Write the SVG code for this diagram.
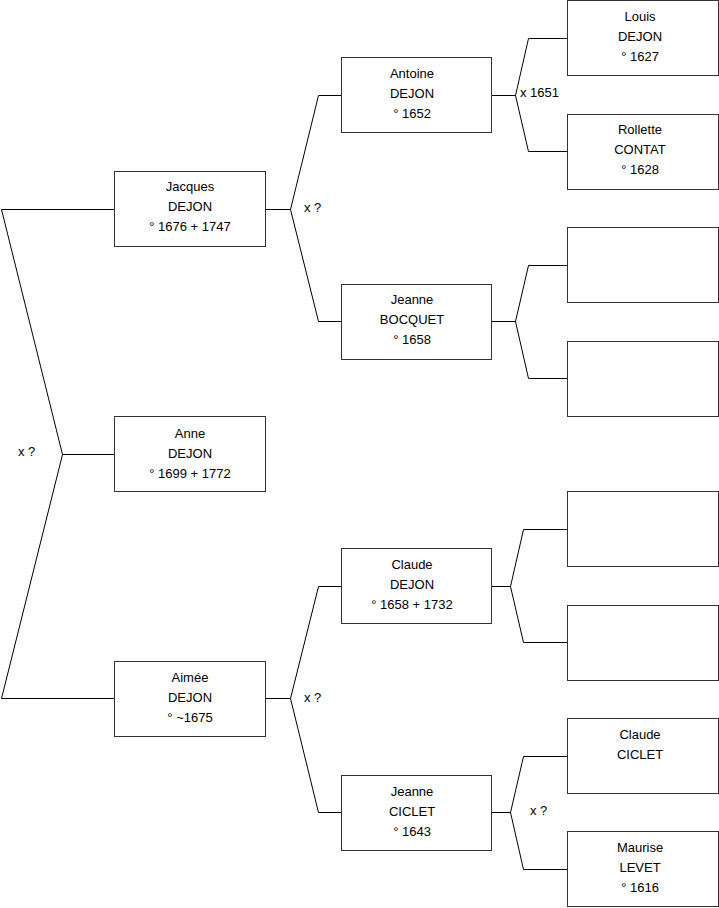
<svg xmlns="http://www.w3.org/2000/svg" width="719" height="908" viewBox="0 0 719 908">
<style>
.box{fill:#fff;stroke:#333;stroke-width:1}
.ln{fill:none;stroke:#000;stroke-width:1}
text{font-family:"Liberation Sans",Arial,sans-serif;font-size:13px;fill:#000}
.c{text-anchor:middle}
</style>
<rect width="719" height="908" fill="#fff"/>
<g id="connectors">
<path class="ln" d="M114.5,209.5H1.5L62.5,454.5L1.5,698.5H114.5M62.5,454.5H114.5"/>
<path class="ln" d="M265.5,209.5H290.5L318.5,95.5H341.5M290.5,209.5L318.5,321.5H341.5"/>
<path class="ln" d="M265.5,698.5H290.5L318.5,586.5H341.5M290.5,698.5L318.5,812.5H341.5"/>
<path class="ln" d="M491.5,95.5H515.5L528.5,38.5H567.5M515.5,95.5L528.5,151.5H567.5"/>
<path class="ln" d="M491.5,321.5H515.5L528.5,265.5H567.5M515.5,321.5L528.5,378.5H567.5"/>
<path class="ln" d="M491.5,586.5H510.5L523.5,529.5H567.5M510.5,586.5L523.5,642.5H567.5"/>
<path class="ln" d="M491.5,812.5H510.5L523.5,756.5H567.5M510.5,812.5L523.5,869.5H567.5"/>
<text x="18" y="456">x ?</text>
<text x="304" y="212">x ?</text>
<text x="304" y="702">x ?</text>
<text x="520" y="97">x 1651</text>
<text x="530" y="815">x ?</text>
</g>
<g id="jacques"><rect class="box" x="114.5" y="171.5" width="151" height="75"/>
<text class="c" x="190" y="191">Jacques</text><text class="c" x="190" y="211">DEJON</text><text class="c" x="190" y="231">° 1676 + 1747</text></g>
<g id="anne"><rect class="box" x="114.5" y="416.5" width="151" height="75"/>
<text class="c" x="190" y="438">Anne</text><text class="c" x="190" y="458">DEJON</text><text class="c" x="190" y="478">° 1699 + 1772</text></g>
<g id="aimee"><rect class="box" x="114.5" y="661.5" width="151" height="75"/>
<text class="c" x="190" y="682">Aimée</text><text class="c" x="190" y="702">DEJON</text><text class="c" x="190" y="722">° ~1675</text></g>
<g id="antoine"><rect class="box" x="341.5" y="57.5" width="150" height="75"/>
<text class="c" x="412" y="78">Antoine</text><text class="c" x="412" y="98">DEJON</text><text class="c" x="412" y="118">° 1652</text></g>
<g id="jeanne-bocquet"><rect class="box" x="341.5" y="284.5" width="150" height="75"/>
<text class="c" x="412" y="304">Jeanne</text><text class="c" x="412" y="324">BOCQUET</text><text class="c" x="412" y="344">° 1658</text></g>
<g id="claude-dejon"><rect class="box" x="341.5" y="548.5" width="150" height="75"/>
<text class="c" x="412" y="569">Claude</text><text class="c" x="412" y="589">DEJON</text><text class="c" x="412" y="609">° 1658 + 1732</text></g>
<g id="jeanne-ciclet"><rect class="box" x="341.5" y="775.5" width="150" height="75"/>
<text class="c" x="412" y="796">Jeanne</text><text class="c" x="412" y="816">CICLET</text><text class="c" x="412" y="836">° 1643</text></g>
<g id="louis"><rect class="box" x="567.5" y="0.5" width="151" height="75"/>
<text class="c" x="640" y="21">Louis</text><text class="c" x="640" y="41">DEJON</text><text class="c" x="640" y="61">° 1627</text></g>
<g id="rollette"><rect class="box" x="567.5" y="114.5" width="151" height="75"/>
<text class="c" x="640" y="134">Rollette</text><text class="c" x="640" y="154">CONTAT</text><text class="c" x="640" y="174">° 1628</text></g>
<g id="empty1"><rect class="box" x="567.5" y="227.5" width="151" height="75"/></g>
<g id="empty2"><rect class="box" x="567.5" y="341.5" width="151" height="75"/></g>
<g id="empty3"><rect class="box" x="567.5" y="491.5" width="151" height="75"/></g>
<g id="empty4"><rect class="box" x="567.5" y="605.5" width="151" height="75"/></g>
<g id="claude-ciclet"><rect class="box" x="567.5" y="718.5" width="151" height="75"/>
<text class="c" x="640" y="739">Claude</text><text class="c" x="640" y="759">CICLET</text></g>
<g id="maurise"><rect class="box" x="567.5" y="831.5" width="151" height="75"/>
<text class="c" x="640" y="852">Maurise</text><text class="c" x="640" y="872">LEVET</text><text class="c" x="640" y="892">° 1616</text></g>
</svg>
